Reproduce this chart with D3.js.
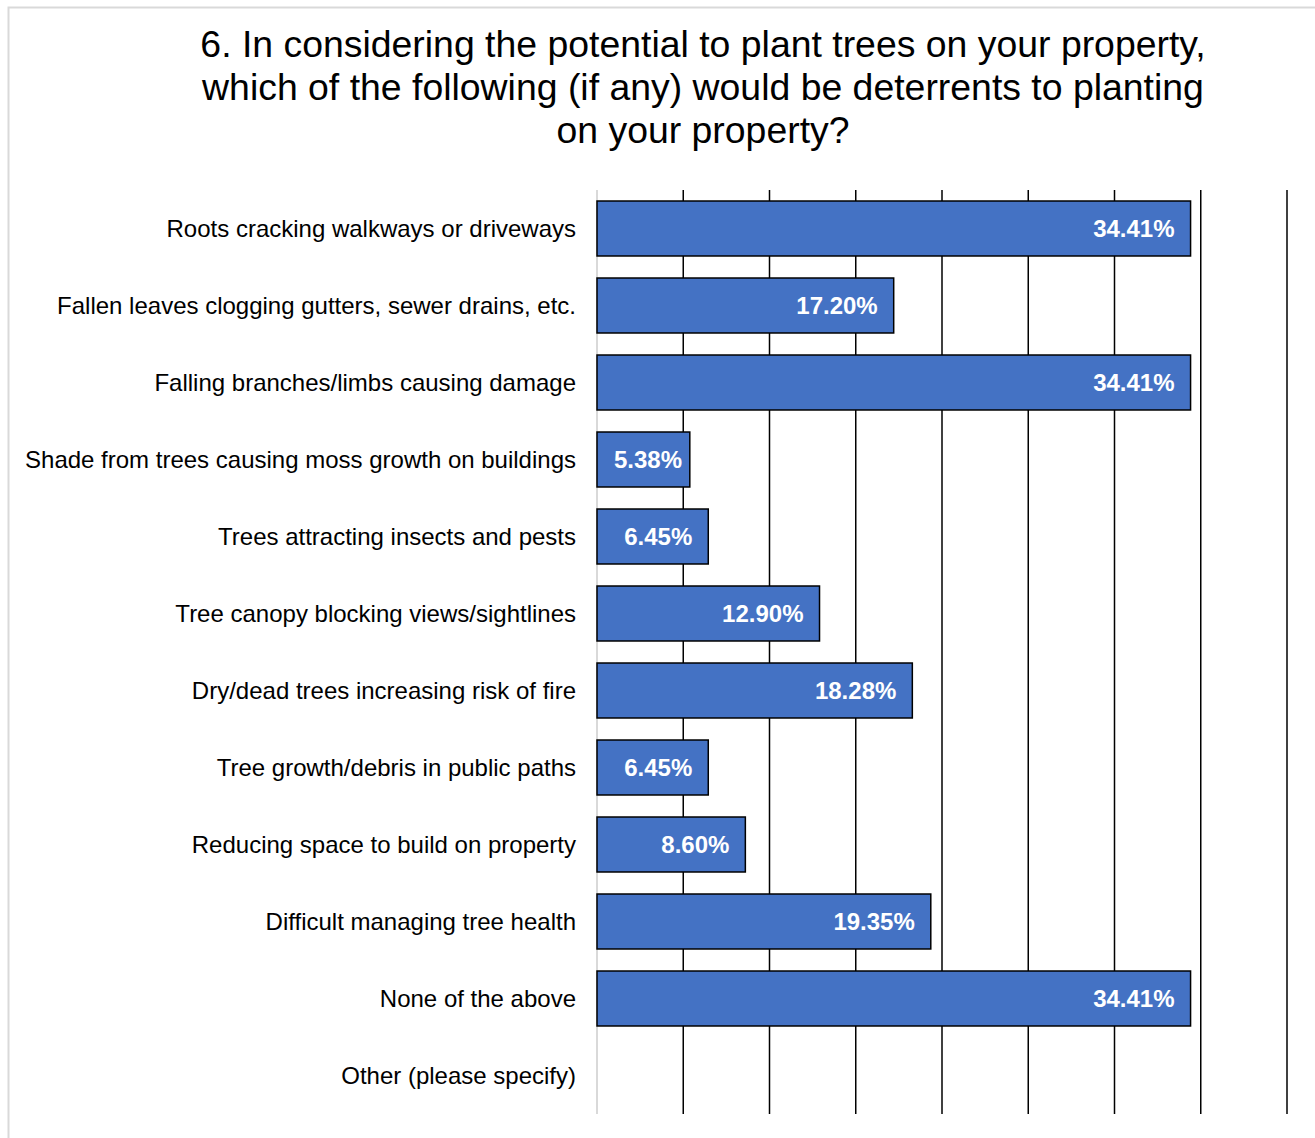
<!DOCTYPE html>
<html><head><meta charset="utf-8">
<script src="https://cdn.jsdelivr.net/npm/d3@7"></script>
<style>body{margin:0;background:#fff;font-family:"Liberation Sans",Arial,sans-serif;}</style>
</head><body>
<svg id="chart" width="1315" height="1138"></svg>
<script>
const categories = [
  "Roots cracking walkways or driveways",
  "Fallen leaves clogging gutters, sewer drains, etc.",
  "Falling branches/limbs causing damage",
  "Shade from trees causing moss growth on buildings",
  "Trees attracting insects and pests",
  "Tree canopy blocking views/sightlines",
  "Dry/dead trees increasing risk of fire",
  "Tree growth/debris in public paths",
  "Reducing space to build on property",
  "Difficult managing tree health",
  "None of the above",
  "Other (please specify)"
];
const values = [34.41, 17.20, 34.41, 5.38, 6.45, 12.90, 18.28, 6.45, 8.60, 19.35, 34.41, 0];
const gridTicks = [5, 10, 15, 20, 25, 30, 35, 40];
const titleLines = [
  "6. In considering the potential to plant trees on your property,",
  "which of the following (if any) would be deterrents to planting",
  "on your property?"
];

const svg = d3.select("#chart");
svg.append("rect").attr("x", 8.5).attr("y", 7.5).attr("width", 1330).attr("height", 1150)
  .attr("fill", "#fff").attr("stroke", "#d9d9d9").attr("stroke-width", 2);

svg.append("g").selectAll("text").data(titleLines).join("text")
  .attr("x", 703).attr("y", (d, i) => 57 + i * 43)
  .attr("text-anchor", "middle").attr("font-size", 37.4).attr("fill", "#000")
  .text(d => d);

const x = d3.scaleLinear().domain([0, 40]).range([597, 1287]);
const y = d3.scaleBand().domain(categories).range([190, 1114]).paddingInner(0.286).paddingOuter(0.143);

svg.append("g").selectAll("line").data(gridTicks).join("line")
  .attr("x1", d => x(d)).attr("x2", d => x(d)).attr("y1", 190).attr("y2", 1114)
  .attr("stroke", "#000").attr("stroke-width", 1.5);

svg.append("line").attr("x1", x(0)).attr("x2", x(0)).attr("y1", 190).attr("y2", 1114)
  .attr("stroke", "#d9d9d9").attr("stroke-width", 2);

const data = categories.map((c, i) => ({c, v: values[i]}));
svg.append("g").selectAll("rect").data(data.filter(d => d.v > 0)).join("rect")
  .attr("x", x(0)).attr("y", d => y(d.c)).attr("width", d => x(d.v) - x(0)).attr("height", y.bandwidth())
  .attr("fill", "#4472C4").attr("stroke", "#000").attr("stroke-width", 1.5);

svg.append("g").selectAll("text").data(data.filter(d => d.v > 0)).join("text")
  .attr("y", d => y(d.c) + y.bandwidth() / 2)
  .attr("dy", "0.36em").attr("text-anchor", "start").attr("font-size", 24).attr("font-weight", "bold")
  .attr("fill", "#fff").text(d => d.v.toFixed(2) + "%")
  .each(function(d) {
    const w = this.getComputedTextLength();
    const start = Math.max(x(d.v) - 16 - w, x(0) + 17);
    d3.select(this).attr("x", start);
  });

svg.append("g").selectAll("text").data(categories).join("text")
  .attr("x", 576).attr("y", d => y(d) + y.bandwidth() / 2)
  .attr("dy", "0.36em").attr("text-anchor", "end").attr("font-size", 24).attr("fill", "#000")
  .text(d => d);
</script>
</body></html>
